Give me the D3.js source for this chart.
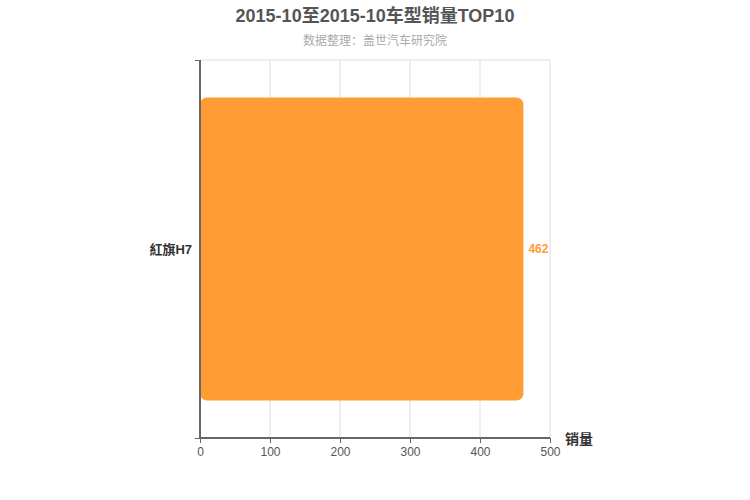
<!DOCTYPE html>
<html>
<head>
<meta charset="utf-8">
<script src="https://cdn.jsdelivr.net/npm/d3@7"></script>
<style>
  body { margin: 0; background: #fff; }
  text { font-family: "Liberation Sans", "Noto Sans CJK SC", sans-serif; }
</style>
</head>
<body>
<div id="chart"></div>
<script>
// Chart data
var titleText = "2015-10至2015-10车型销量TOP10";
var subtitleText = "数据整理：盖世汽车研究院";
var models = ["紅旗H7"];
var sales = [462];
var xTicks = [0, 100, 200, 300, 400, 500];

var svgWidth = 750;
var svgHeight = 500;
var margin = { top: 60, right: 200, bottom: 62, left: 200 };
var width = svgWidth - margin.left - margin.right;
var height = svgHeight - margin.top - margin.bottom;

var svg = d3.select("#chart")
  .append("svg")
  .attr("width", svgWidth)
  .attr("height", svgHeight);

svg.append("text")
  .attr("x", svgWidth / 2)
  .attr("y", 22)
  .attr("text-anchor", "middle")
  .attr("font-size", "18px")
  .attr("font-weight", "bold")
  .attr("fill", "#555")
  .text(titleText);

svg.append("text")
  .attr("x", svgWidth / 2)
  .attr("y", 45)
  .attr("text-anchor", "middle")
  .attr("font-size", "12px")
  .attr("fill", "#aaa")
  .text(subtitleText);

var chartGroup = svg.append("g")
  .attr("transform", `translate(${margin.left}, ${margin.top})`);

var xScale = d3.scaleLinear().domain([0, 500]).range([0, width]);
var yScale = d3.scaleBand().domain(models).range([0, height]).padding(0.11);

// grid
chartGroup.selectAll(".vgrid")
  .data(xTicks.slice(1))
  .enter()
  .append("line")
  .attr("x1", d => xScale(d))
  .attr("x2", d => xScale(d))
  .attr("y1", 0)
  .attr("y2", height)
  .attr("stroke", "#ddd");

chartGroup.append("line")
  .attr("x1", 0).attr("x2", width)
  .attr("y1", 0).attr("y2", 0)
  .attr("stroke", "#ddd");

// bars
chartGroup.selectAll("rect.bar")
  .data(models)
  .enter()
  .append("rect")
  .attr("class", "bar")
  .attr("x", xScale(0))
  .attr("y", d => yScale(d))
  .attr("width", (d, i) => xScale(sales[i]) - xScale(0))
  .attr("height", yScale.bandwidth())
  .attr("rx", 7)
  .attr("fill", "#ff9c33");

chartGroup.selectAll("text.val")
  .data(models)
  .enter()
  .append("text")
  .attr("class", "val")
  .attr("x", (d, i) => xScale(sales[i]) + 5)
  .attr("y", d => yScale(d) + yScale.bandwidth() / 2)
  .attr("dy", "0.35em")
  .attr("font-size", "12px")
  .attr("font-weight", "bold")
  .attr("fill", "#ff9c33")
  .text((d, i) => sales[i]);

// axes
var bottomAxis = d3.axisBottom(xScale).tickValues(xTicks).tickSize(5).tickPadding(4);
var xAxisG = chartGroup.append("g")
  .attr("transform", `translate(0, ${height})`)
  .call(bottomAxis);
xAxisG.select(".domain").attr("stroke", "#666").attr("stroke-width", 2).attr("d", `M0,0H${width}`);
xAxisG.selectAll(".tick line").attr("stroke", "#666");
xAxisG.selectAll(".tick text").attr("fill", "#555").attr("font-size", "12px");

var leftAxis = d3.axisLeft(d3.scaleLinear().domain([0, 1]).range([height, 0]))
  .tickValues([0, 1]).tickFormat("").tickSize(5);
var yAxisG = chartGroup.append("g").call(leftAxis);
yAxisG.select(".domain").attr("stroke", "#666").attr("stroke-width", 2).attr("d", `M0,0V${height}`);
yAxisG.selectAll(".tick line").attr("stroke", "#666");

chartGroup.selectAll("text.cat")
  .data(models)
  .enter()
  .append("text")
  .attr("class", "cat")
  .attr("x", -8)
  .attr("y", d => yScale(d) + yScale.bandwidth() / 2)
  .attr("dy", "0.35em")
  .attr("text-anchor", "end")
  .attr("font-size", "13px")
  .attr("font-weight", "bold")
  .attr("fill", "#333")
  .text(d => d);

chartGroup.append("text")
  .attr("x", width + 15)
  .attr("y", height + 6)
  .attr("font-size", "14px")
  .attr("font-weight", "bold")
  .attr("fill", "#333")
  .text("销量");
</script>
</body>
</html>
